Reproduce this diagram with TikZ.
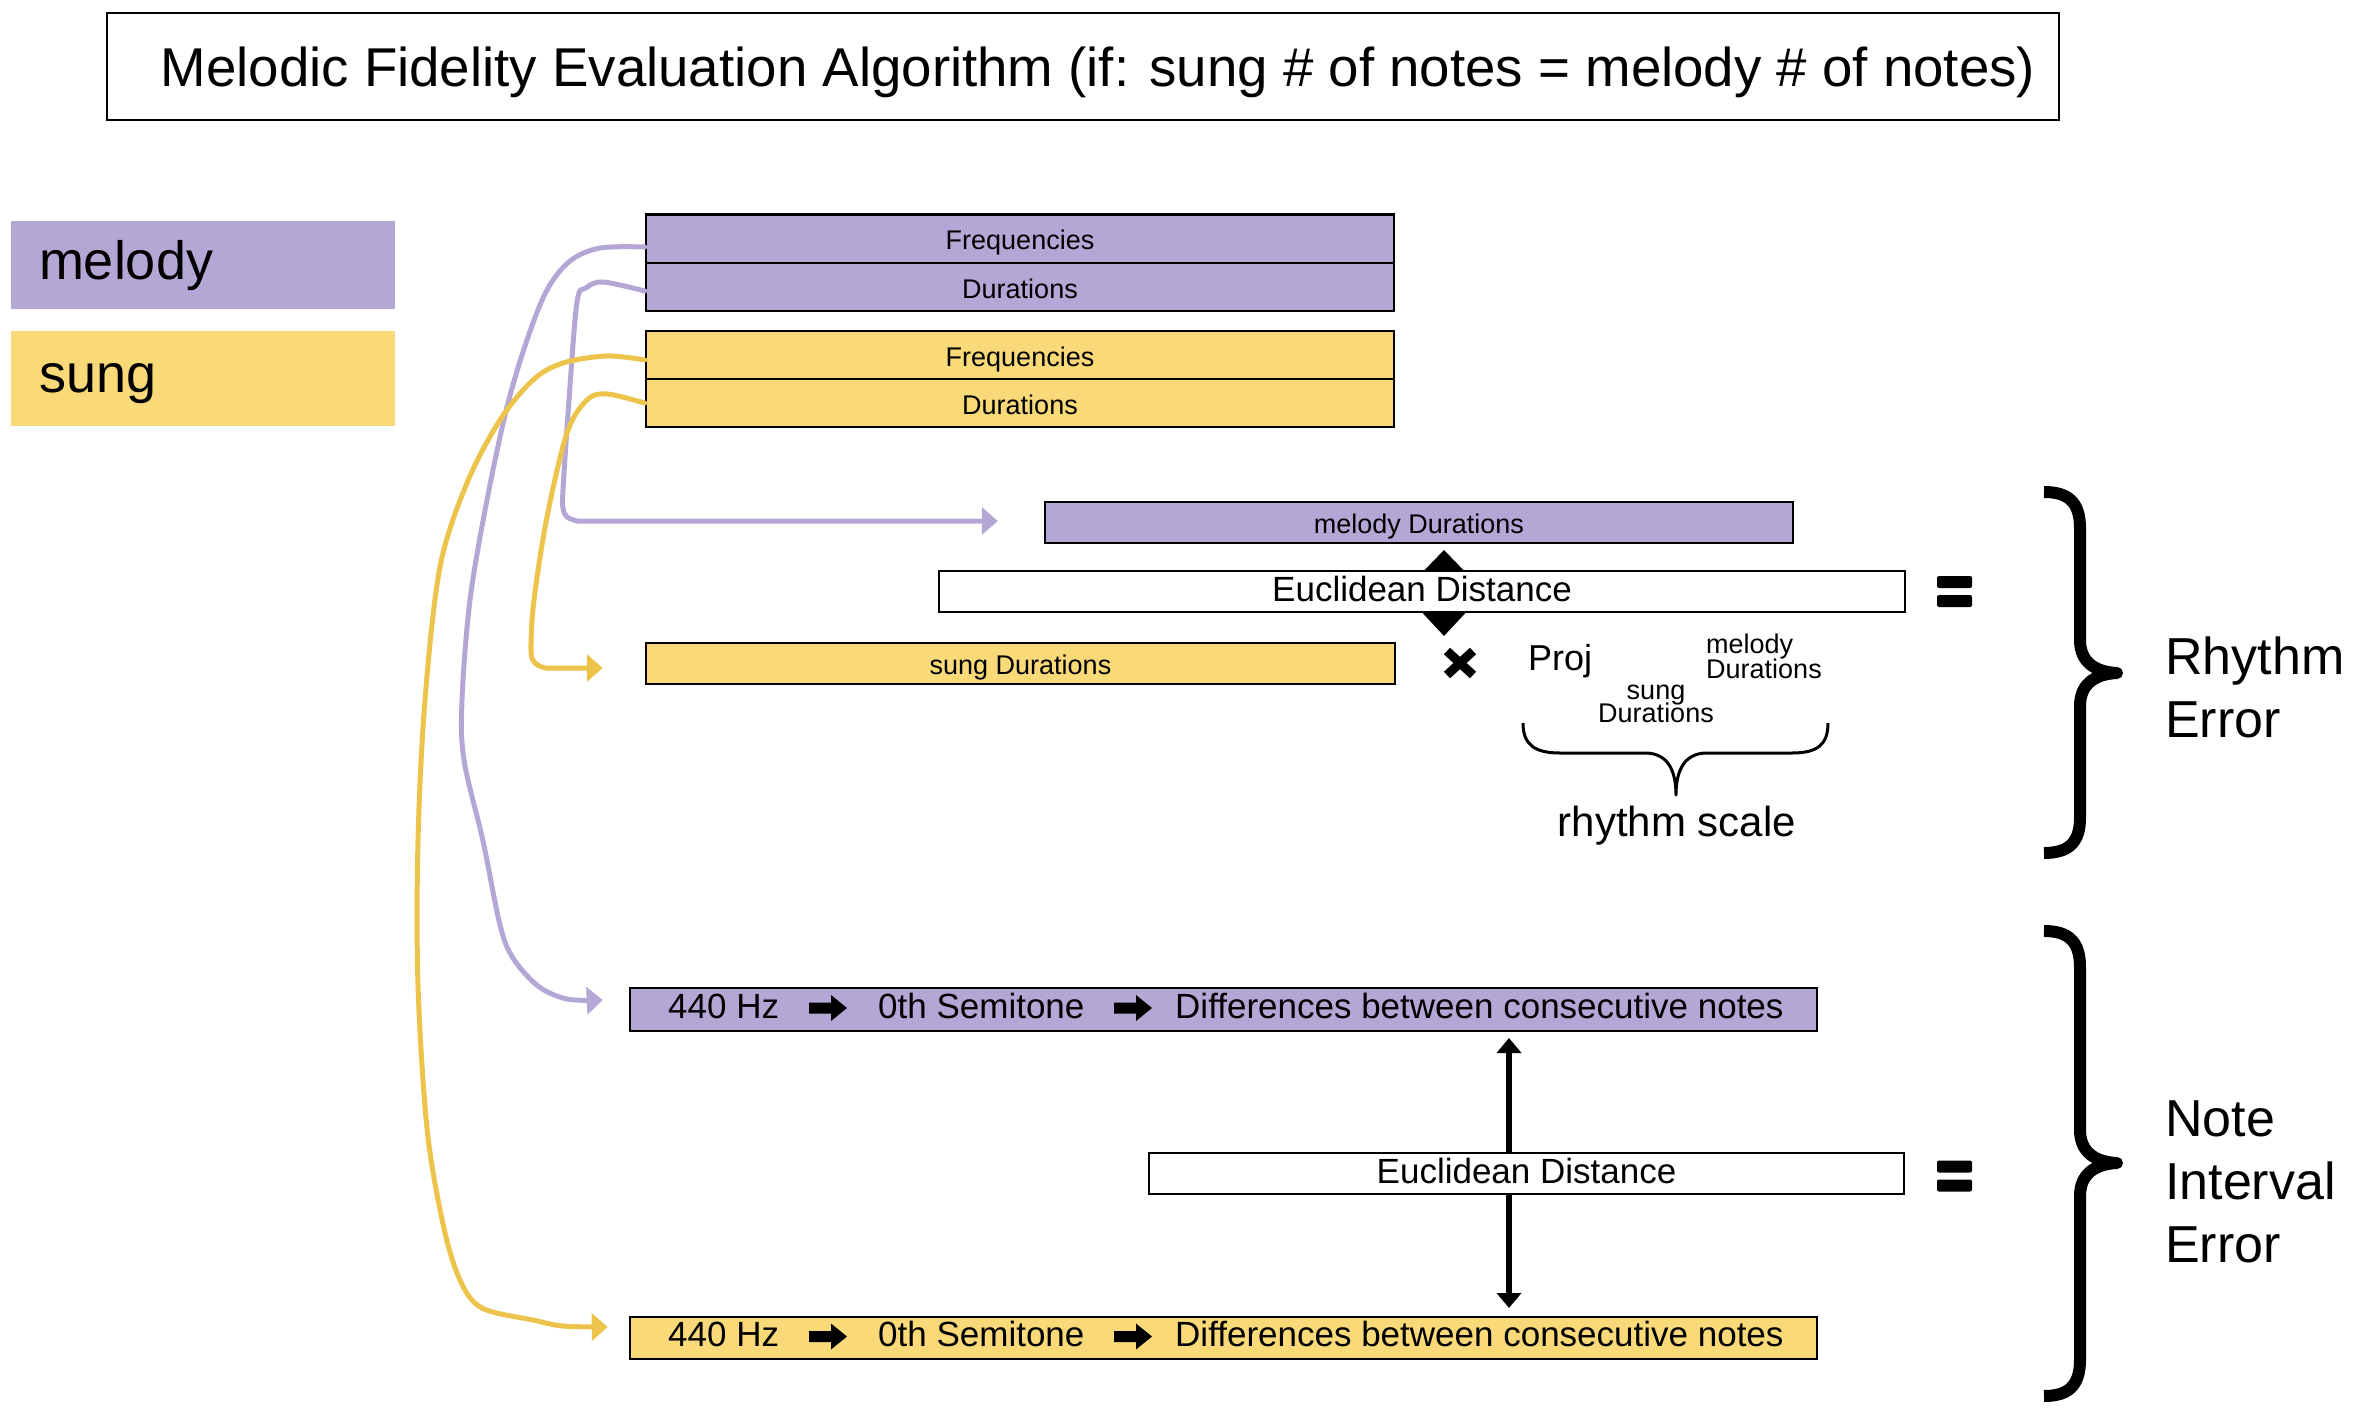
\documentclass[tikz,border=0pt]{standalone}
\usepackage{fontspec}
\setmainfont{Liberation Sans}
\usetikzlibrary{arrows.meta,backgrounds}
\definecolor{purp}{RGB}{180,167,214}
\definecolor{yel}{RGB}{249,217,120}
\definecolor{yelline}{RGB}{236,195,75}
\newcommand{\myfs}[2]{\fontsize{#1pt}{#2pt}\selectfont}
\tikzset{
  fatarrow/.pic={\fill[black] (0,-5.5) -- (22,-5.5) -- (22,-13) -- (38,0) -- (22,13) -- (22,5.5) -- (0,5.5) -- cycle;}
}
\begin{document}
\begin{tikzpicture}[x=1pt,y=-1pt,
  bx/.style={draw=black, line width=2.5pt, inner sep=0pt},
  bxs/.style={bx, font=\myfs{27}{30}, text height=22pt, text depth=0pt},
  bxm/.style={bx, font=\myfs{35}{40}, text height=25pt, text depth=6pt},
  legbox/.style={fill=purp, minimum width=384pt, text width=328pt, inner xsep=28pt, inner ysep=0pt, align=left, font=\myfs{54}{60}, text height=28pt, text depth=0pt},
  semitxt/.style={anchor=base west, inner sep=0pt, font=\myfs{35}{40}},
  pline/.style={draw=purp, line width=5pt, line cap=round, line join=round, -{Triangle[length=16pt,width=27pt]}},
  yline/.style={draw=yelline, line width=5pt, line cap=round, line join=round, -{Triangle[length=16pt,width=27pt]}},
  bigbrace/.style={draw=black, line width=12pt, line join=round},
  smallbrace/.style={draw=black, line width=3pt, line join=round},
]
\useasboundingbox (0,0) rectangle (2362,1424);

% title
\node[bx, font=\myfs{54.65}{60}, text height=39pt, text depth=0pt, minimum width=1952pt, minimum height=107pt] (title) at (1083,66.5) {\hspace*{30pt}Melodic Fidelity Evaluation Algorithm (if: sung \# of notes = melody \# of notes)};

% legend
\node[legbox, minimum height=88pt] (legM) at (203,265) {melody};
\node[legbox, fill=yel, minimum height=95pt] (legS) at (203,378.5) {sung};

% input boxes
\node[bxs, fill=purp, minimum width=748pt, minimum height=48.5pt] (mFreq) at (1020,238.5) {Frequencies};
\node[bxs, fill=purp, minimum width=748pt, minimum height=48pt] (mDur) at (1020,287) {Durations};
\node[bxs, fill=yel, minimum width=748pt, minimum height=48pt] (sFreq) at (1020,355) {Frequencies};
\node[bxs, fill=yel, minimum width=748pt, minimum height=48pt] (sDur) at (1020,403) {Durations};

% rhythm part
\node[bxs, fill=purp, minimum width=748pt, minimum height=41pt] (mDurB) at (1419,522.5) {melody Durations};
\node[bxm, fill=white, minimum width=966pt, minimum height=41pt] (euc1) at (1422,591.5) {Euclidean Distance};
\node[bxs, fill=yel, minimum width=749pt, minimum height=41pt] (sDurB) at (1020.5,663.5) {sung Durations};

% interval part
\node[bx, fill=purp, minimum width=1187pt, minimum height=43pt] (mSemi) at (1223.5,1009.5) {};
\node[bxm, fill=white, minimum width=755pt, minimum height=41pt] (euc2) at (1526.5,1173.5) {Euclidean Distance};
\node[bx, fill=yel, minimum width=1187pt, minimum height=42pt] (sSemi) at (1223.5,1338) {};

\node[semitxt] (mT1) at (668,1018) {440 Hz};
\node[semitxt] (mT2) at (878,1018) {0th Semitone};
\node[semitxt] (mT3) at (1175,1018) {Differences between consecutive notes};
\pic at (809,1008) {fatarrow};
\pic at (1114,1008) {fatarrow};
\node[semitxt] (sT1) at (668,1346.5) {440 Hz};
\node[semitxt] (sT2) at (878,1346.5) {0th Semitone};
\node[semitxt] (sT3) at (1175,1346.5) {Differences between consecutive notes};
\pic at (809,1336.5) {fatarrow};
\pic at (1114,1336.5) {fatarrow};

% double arrows behind Euclidean boxes
\coordinate (da1) at (1444,550);
\coordinate (da2) at (1444,636);
\coordinate (vb1) at (1509,1038);
\coordinate (vb2) at (1509,1308);
\begin{scope}[on background layer]
\draw[line width=3pt, {Triangle[length=21pt,width=40pt]}-{Triangle[length=25pt,width=46pt]}] (da1) -- (da2);
\draw[line width=5.5pt, {Triangle[length=15pt,width=24pt]}-{Triangle[length=15pt,width=24pt]}] (vb1) -- (vb2);
\end{scope}

% connectors
\coordinate (pf0) at ([yshift=-8.5pt]mFreq.west);
\coordinate (pf1) at ([xshift=-26pt,yshift=9.5pt]mSemi.west);
\draw[pline] plot[smooth, tension=0.55] coordinates {(pf0) (600,248) (570,261) (547,290) (527,340) (507,407) (487,500) (470,600) (462,700) (464,760) (483,841) (500,925) (513,958) (538,986) (567,999) (pf1)};

\coordinate (pd0) at ([yshift=-4pt]mDur.west);
\coordinate (pd1) at ([xshift=-46pt,yshift=1.5pt]mDurB.west);
\draw[pline] plot[smooth, tension=0.55] coordinates {(pd0) (603,282) (586,288) (577,302) (569,400) (563,490) (563,508) (567,517) (577,521)} -- (pd1);

\coordinate (yf0) at ([yshift=-5pt]sFreq.west);
\coordinate (yf1) at ([xshift=-21pt,yshift=11pt]sSemi.west);
\draw[yline] plot[smooth, tension=0.55] coordinates {(yf0) (607,356) (563,363) (533,380) (500,420) (467,483) (440,567) (425,700) (418,841) (418,985) (427,1128) (443,1224) (460,1280) (482,1308) (533,1320) (563,1326) (yf1)};

\coordinate (yd0) at (sDur.west);
\coordinate (yd1) at ([xshift=-42pt,yshift=-4.5pt]sDurB.west);
\draw[yline] plot[smooth, tension=0.55] coordinates {(yd0) (607,394) (587,400) (567,433) (547,517) (534,600) (531,650) (535,663) (545,668)} -- (yd1);

% multiplication sign
\draw[line width=9pt] (1447,651) -- (1473,675) (1447,675) -- (1473,651);

% projection
\node[anchor=base west, inner sep=0pt, font=\myfs{36}{40}] (proj) at (1528,670) {Proj};
\node[anchor=north west, inner sep=0pt, font={\myfs{27}{25}\lineskiplimit=-100pt}, align=left] (projsup) at (1706,633) {\rule{0pt}{20pt}melody\\Durations};
\node[anchor=north, inner sep=0pt, font={\myfs{27}{23}\lineskiplimit=-100pt}, align=center] (projsub) at (1656,679) {\rule{0pt}{20pt}sung\\Durations};

% rhythm scale brace
\draw[smallbrace] (1523,723) .. controls (1523,745) and (1535,753) .. (1560,753) -- (1645,753) .. controls (1666,753) and (1676,768) .. (1676,795) .. controls (1676,768) and (1686,753) .. (1707,753) -- (1792,753) .. controls (1817,753) and (1828,745) .. (1828,723);
\node[anchor=base, inner sep=0pt, font=\myfs{42}{45}] (rscale) at (1677,836) {rhythm scale};

% equals signs
\fill[rounded corners=2pt] (1937,576) rectangle (1972,588);
\fill[rounded corners=2pt] (1937,595) rectangle (1972,607);
\fill[rounded corners=2pt] (1937,1160.5) rectangle (1972,1172.5);
\fill[rounded corners=2pt] (1937,1179.5) rectangle (1972,1191.5);

% big braces
\draw[bigbrace] (2044,492) .. controls (2068,492) and (2080,502) .. (2080,528) -- (2080,640) .. controls (2080,662) and (2095,672) .. (2117,673) .. controls (2095,674) and (2080,684) .. (2080,706) -- (2080,818) .. controls (2080,843) and (2068,853) .. (2044,853);
\draw[bigbrace] (2044,931) .. controls (2068,931) and (2080,941) .. (2080,967) -- (2080,1130) .. controls (2080,1152) and (2095,1162) .. (2117,1163) .. controls (2095,1164) and (2080,1174) .. (2080,1196) -- (2080,1360) .. controls (2080,1386) and (2068,1396) .. (2044,1396);

\node[anchor=north west, inner sep=0pt, font={\myfs{52}{63}\lineskiplimit=-100pt}, align=left] (rerr) at (2165,634) {\rule{0pt}{40pt}Rhythm\\Error};
\node[anchor=north west, inner sep=0pt, font={\myfs{52}{63}\lineskiplimit=-100pt}, align=left] (nerr) at (2165,1096) {\rule{0pt}{40pt}Note\\Interval\\Error};
\end{tikzpicture}
\end{document}
